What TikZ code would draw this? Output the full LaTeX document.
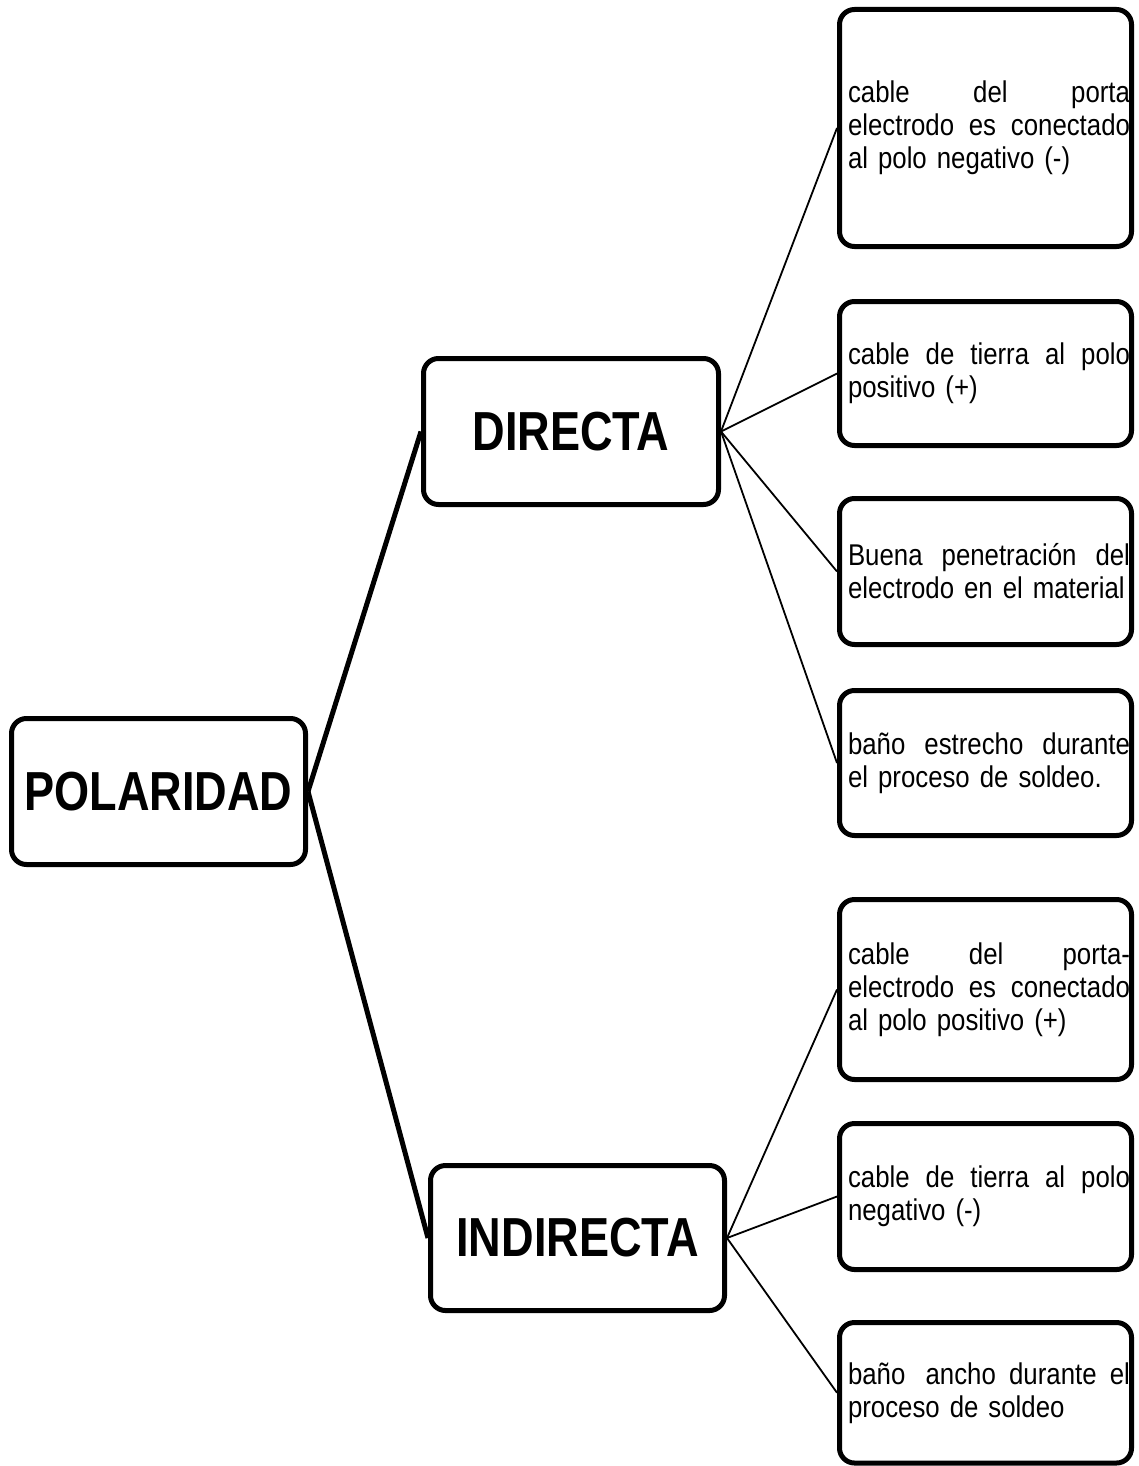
\documentclass[tikz,border=0pt]{standalone}
\usepackage{fontspec}
\setmainfont{Liberation Sans}[FakeStretch=0.82]
\newfontfamily\leaffont{Liberation Sans}[FakeStretch=0.86]
\protected\def\leafsetup{\leaffont\fontsize{30}{33}\selectfont\spaceskip=7pt plus 2pt minus 1pt\relax}
\newcommand\jline[1]{\leavevmode\hbox to 282pt{\spaceskip=7pt plus 1fil\relax\xspaceskip=7pt plus 1fil\relax #1}}
\begin{document}
\begin{tikzpicture}[x=1pt,y=-1pt,
  box/.style={draw, line width=5pt, rounded corners=15pt, inner sep=0pt},
  mainbox/.style={box, font=\fontsize{55}{60}\selectfont\bfseries},
  leafbox/.style={box, minimum width=292pt},
  leaftxt/.style={inner sep=0pt, text width=282pt, align=left, font=\leafsetup},
  thick link/.style={line width=5pt},
  thin link/.style={line width=1.8pt}]
\useasboundingbox (0,0) rectangle (1138,1466);
% main boxes
\node[mainbox, minimum width=294pt, minimum height=146pt] (pol) at (158.5,791.5) {POLARIDAD};
\node[mainbox, minimum width=295pt, minimum height=146pt] (dir) at (571,431.5) {DIRECTA};
\node[mainbox, minimum width=294pt, minimum height=145pt] (ind) at (577.5,1238) {INDIRECTA};
% leaf boxes
\node[leafbox, minimum height=237pt] (b1) at (985.5,128) {};
\node[leafbox, minimum height=144pt] (b2) at (985.5,373.5) {};
\node[leafbox, minimum height=146pt] (b3) at (985.5,571.5) {};
\node[leafbox, minimum height=145pt] (b4) at (985.5,763) {};
\node[leafbox, minimum height=180pt] (b5) at (985.5,989.5) {};
\node[leafbox, minimum height=146pt] (b6) at (985.5,1196.5) {};
\node[leafbox, minimum height=140.5pt] (b7) at (985.5,1392.75) {};
% leaf texts
\node[leaftxt] (t1) at ([xshift=3.5pt]b1.center) {\jline{cable del porta}\\\jline{electrodo es conectado}\\al polo negativo (-)};
\node[leaftxt] (t2) at ([xshift=3.5pt]b2.center) {\jline{cable de tierra al polo}\\positivo (+)};
\node[leaftxt] (t3) at ([xshift=3.5pt]b3.center) {\jline{Buena penetración del}\\electrodo en el material};
\node[leaftxt] (t4) at ([xshift=3.5pt]b4.center) {\jline{baño estrecho durante}\\el proceso de soldeo.};
\node[leaftxt] (t5) at ([xshift=3.5pt]b5.center) {\jline{cable del porta-}\\\jline{electrodo es conectado}\\al polo positivo (+)};
\node[leaftxt] (t6) at ([xshift=3.5pt]b6.center) {\jline{cable de tierra al polo}\\negativo (-)};
\node[leaftxt] (t7) at ([xshift=3.5pt]b7.center) {\jline{baño\hspace{7pt} ancho durante el}\\proceso de soldeo};
% connectors
\draw[thick link] (pol.east) -- (dir.west);
\draw[thick link] (pol.east) -- (ind.west);
\foreach \b in {b1,b2,b3,b4} \draw[thin link] (dir.east) -- (\b.west);
\foreach \b in {b5,b6,b7} \draw[thin link] (ind.east) -- (\b.west);
\end{tikzpicture}
\end{document}
